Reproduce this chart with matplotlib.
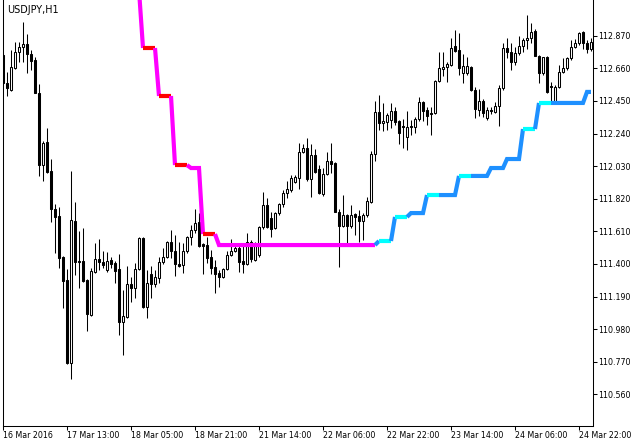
"""USDJPY H1 chart with a two-colour step trend line"""

import matplotlib
matplotlib.use('Agg')
import matplotlib.pyplot as plt


SYMBOL = "USDJPY,H1"

# hourly candles
opens = [
    112.746, 112.565, 112.520, 112.662, 112.765, 112.797, 112.817, 112.752, 112.714, 112.501,
    112.037, 112.186, 111.999, 111.754, 111.709, 111.445, 111.297, 110.762, 111.677, 111.419,
    111.419, 111.297, 111.071, 111.348, 111.432, 111.413, 111.361, 111.426, 111.406, 111.368,
    111.026, 111.058, 111.271, 111.245, 111.368, 111.567, 111.123, 111.335, 111.271, 111.310,
    111.413, 111.445, 111.542, 111.484, 111.400, 111.393, 111.484, 111.574, 111.619, 111.670,
    111.529, 111.522, 111.445, 111.381, 111.342, 111.316, 111.368, 111.458, 111.484, 111.503,
    111.419, 111.400, 111.542, 111.426, 111.458, 111.638, 111.780, 111.696, 111.632, 111.728,
    111.786, 111.857, 111.876, 111.928, 111.954, 112.121, 112.147, 111.947, 112.102, 112.012,
    111.851, 111.979, 112.063, 112.050, 111.735, 111.645, 111.715, 111.645, 111.722, 111.709,
    111.677, 111.715, 111.799, 112.108, 112.379, 112.308, 112.314, 112.327, 112.385, 112.321,
    112.289, 112.218, 112.289, 112.282, 112.334, 112.443, 112.392, 112.372, 112.372, 112.578,
    112.656, 112.669, 112.681, 112.804, 112.778, 112.630, 112.630, 112.669, 112.520, 112.392,
    112.450, 112.340, 112.392, 112.379, 112.417, 112.533, 112.791, 112.765, 112.701, 112.759,
    112.804, 112.842, 112.855, 112.900, 112.739, 112.630, 112.733, 112.546, 112.443, 112.540,
    112.636, 112.662, 112.727, 112.797, 112.823, 112.894, 112.823, 112.784,
]
highs = [
    112.760, 112.636, 112.778, 112.830, 112.830, 112.958, 112.881, 112.778, 112.733, 112.559,
    112.192, 112.276, 112.076, 111.786, 111.767, 111.452, 111.368, 111.999, 111.799, 111.612,
    111.632, 111.305, 111.374, 111.535, 111.561, 111.484, 111.477, 111.445, 111.419, 111.464,
    111.232, 111.387, 111.316, 111.406, 111.574, 111.574, 111.361, 111.387, 111.361, 111.445,
    111.503, 111.548, 111.619, 111.587, 111.542, 111.535, 111.580, 111.651, 111.754, 111.728,
    111.535, 111.574, 111.490, 111.426, 111.361, 111.374, 111.484, 111.561, 111.522, 111.522,
    111.522, 111.600, 111.554, 111.542, 111.645, 111.864, 111.825, 111.735, 111.735, 111.793,
    111.876, 111.934, 111.973, 111.973, 112.179, 112.173, 112.211, 112.173, 112.140, 112.037,
    112.018, 112.121, 112.179, 112.057, 111.754, 111.844, 111.722, 111.780, 111.728, 111.748,
    111.728, 111.831, 112.128, 112.450, 112.488, 112.437, 112.372, 112.437, 112.411, 112.327,
    112.334, 112.385, 112.327, 112.347, 112.475, 112.450, 112.411, 112.411, 112.585, 112.765,
    112.765, 112.701, 112.855, 112.907, 112.887, 112.752, 112.733, 112.675, 112.540, 112.527,
    112.462, 112.411, 112.411, 112.443, 112.553, 112.823, 112.855, 112.823, 112.797, 112.868,
    112.855, 113.003, 112.952, 112.913, 112.746, 112.733, 112.739, 112.572, 112.553, 112.681,
    112.727, 112.733, 112.842, 112.849, 112.894, 112.900, 112.842, 112.855,
]
lows = [
    112.565, 112.482, 112.514, 112.656, 112.701, 112.701, 112.630, 112.649, 112.501, 111.967,
    111.934, 111.986, 111.670, 111.471, 111.374, 111.116, 110.756, 110.659, 111.329, 111.245,
    111.284, 110.968, 111.065, 111.342, 111.361, 111.374, 111.348, 111.374, 111.277, 110.943,
    110.814, 111.052, 111.155, 111.181, 111.361, 111.116, 111.052, 111.181, 111.252, 111.277,
    111.400, 111.439, 111.439, 111.323, 111.381, 111.342, 111.471, 111.522, 111.600, 111.509,
    111.335, 111.406, 111.335, 111.213, 111.252, 111.310, 111.361, 111.451, 111.477, 111.348,
    111.342, 111.393, 111.413, 111.419, 111.445, 111.625, 111.632, 111.574, 111.625, 111.715,
    111.767, 111.825, 111.864, 111.921, 111.883, 112.115, 111.934, 111.831, 111.986, 111.851,
    111.838, 111.973, 111.986, 111.735, 111.381, 111.638, 111.535, 111.632, 111.587, 111.542,
    111.554, 111.703, 111.793, 112.063, 112.263, 112.256, 112.263, 112.276, 112.295, 112.173,
    112.147, 112.134, 112.231, 112.243, 112.321, 112.321, 112.295, 112.231, 112.366, 112.572,
    112.611, 112.572, 112.675, 112.765, 112.617, 112.565, 112.617, 112.514, 112.340, 112.353,
    112.347, 112.327, 112.366, 112.372, 112.289, 112.520, 112.727, 112.649, 112.681, 112.746,
    112.765, 112.784, 112.823, 112.739, 112.565, 112.617, 112.501, 112.443, 112.437, 112.533,
    112.630, 112.649, 112.714, 112.791, 112.810, 112.784, 112.759, 112.772,
]
closes = [
    112.565, 112.533, 112.669, 112.765, 112.797, 112.817, 112.752, 112.707, 112.501, 112.037,
    112.179, 111.992, 111.754, 111.703, 111.439, 111.290, 110.762, 111.683, 111.413, 111.413,
    111.290, 111.078, 111.355, 111.432, 111.413, 111.393, 111.419, 111.400, 111.355, 111.026,
    111.065, 111.271, 111.245, 111.368, 111.567, 111.123, 111.277, 111.271, 111.316, 111.413,
    111.445, 111.542, 111.484, 111.400, 111.387, 111.484, 111.574, 111.619, 111.664, 111.516,
    111.516, 111.439, 111.374, 111.335, 111.316, 111.368, 111.458, 111.484, 111.503, 111.413,
    111.400, 111.542, 111.432, 111.535, 111.638, 111.780, 111.638, 111.625, 111.728, 111.786,
    111.857, 111.883, 111.954, 111.960, 112.121, 112.147, 111.947, 112.102, 111.992, 111.857,
    111.979, 112.063, 112.044, 111.735, 111.645, 111.715, 111.645, 111.715, 111.703, 111.677,
    111.715, 111.806, 112.108, 112.379, 112.308, 112.321, 112.359, 112.385, 112.314, 112.243,
    112.282, 112.282, 112.282, 112.334, 112.443, 112.385, 112.353, 112.366, 112.578, 112.662,
    112.669, 112.688, 112.791, 112.772, 112.662, 112.675, 112.675, 112.520, 112.398, 112.450,
    112.372, 112.392, 112.385, 112.417, 112.533, 112.791, 112.765, 112.701, 112.759, 112.804,
    112.842, 112.855, 112.894, 112.739, 112.630, 112.733, 112.508, 112.540, 112.540, 112.636,
    112.662, 112.727, 112.797, 112.823, 112.887, 112.823, 112.784, 112.830,
]

# step line, starts at bar 34 (first value is above the visible range)
LINE_FIRST_BAR = 34
line_values = [
    113.164,
    112.791, 112.791, 112.791, 112.791,
    112.482, 112.482, 112.482, 112.482,
    112.037, 112.037, 112.037, 112.037,
    112.018, 112.018, 112.018,
    111.593, 111.593, 111.593, 111.593,
    111.522, 111.522, 111.522, 111.522, 111.522, 111.522, 111.522, 111.522, 111.522, 111.522,
    111.522, 111.522, 111.522, 111.522, 111.522, 111.522, 111.522, 111.522, 111.522, 111.522,
    111.522, 111.522, 111.522, 111.522, 111.522, 111.522, 111.522, 111.522, 111.522, 111.522,
    111.522, 111.522, 111.522, 111.522, 111.522, 111.522, 111.522, 111.522, 111.522, 111.522,
    111.548, 111.548, 111.548, 111.548,
    111.703, 111.703, 111.703, 111.703,
    111.728, 111.728, 111.728, 111.728,
    111.844, 111.844, 111.844, 111.844, 111.844, 111.844, 111.844, 111.844,
    111.967, 111.967, 111.967, 111.967, 111.967, 111.967, 111.967, 111.967,
    112.018, 112.018, 112.018, 112.018,
    112.076, 112.076, 112.076, 112.076,
    112.269, 112.269, 112.269, 112.269,
    112.437, 112.437, 112.437, 112.437, 112.437, 112.437,
    112.437, 112.437, 112.437, 112.437, 112.437, 112.437,
    112.508, 112.508,
]
# state of each segment ending at bar 35..147
# d = down, r = down (signal), u = up, c = up (signal)
line_state = (
    "drrrdrrrdrrrddddrrr"
    "dddddddddddddddddddddddddddddddddddddddd"
    "uccc"
    "uccc"
    "uuuuuccc"
    "uuuuuccc"
    "uuuuuuuuuuuuuccc"
    "uccc"
    "uuuuuuuuuu"
)

price_ticks = [110.560, 110.770, 110.980, 111.190, 111.400, 111.610,
               111.820, 112.030, 112.240, 112.450, 112.660, 112.870]
time_tick_bars = [0, 16, 32, 48, 64, 80, 96, 112, 128, 144]
time_tick_labels = ["16 Mar 2016", "17 Mar 13:00", "18 Mar 05:00",
                    "18 Mar 21:00", "21 Mar 14:00", "22 Mar 06:00",
                    "22 Mar 22:00", "23 Mar 14:00", "24 Mar 06:00",
                    "24 Mar 22:00"]

STATE_COLOURS = {"d": "#ff00ff", "r": "#ff0000",
                 "u": "#1e90ff", "c": "#00ffff"}


def draw_candles(ax):
    """Black/white candles as MetaTrader draws them"""
    bars = range(len(opens))
    ax.vlines(bars, lows, highs, color="black", linewidth=0.75, zorder=2)
    for i in bars:
        up = closes[i] >= opens[i]
        ax.bar(i, closes[i] - opens[i], bottom=opens[i], width=0.5,
               facecolor="white" if up else "black",
               edgecolor="black", linewidth=0.75, zorder=3)


def draw_step_line(ax):
    """Thick step line, coloured run by run"""
    start = 0
    for j in range(1, len(line_state) + 1):
        if j < len(line_state) and line_state[j] == line_state[start]:
            continue
        xs = [LINE_FIRST_BAR + k for k in range(start, j + 1)]
        ys = line_values[start:j + 1]
        ax.plot(xs, ys, color=STATE_COLOURS[line_state[start]],
                linewidth=3.0, solid_capstyle="butt",
                solid_joinstyle="miter", zorder=5)
        start = j


def make_plot(filename):
    fig = plt.figure(figsize=(6.44, 4.46), dpi=100)
    ax = fig.add_axes([2.5 / 644, 20.5 / 446, 590 / 644, 425.5 / 446])

    draw_candles(ax)
    draw_step_line(ax)

    ax.set_xlim(-0.125, 147.375)
    ax.set_ylim(110.360, 113.100)

    for side in ("left", "right", "bottom"):
        ax.spines[side].set_linewidth(0.75)
        ax.spines[side].set_color("black")
    ax.spines["top"].set_visible(False)

    ax.yaxis.tick_right()
    ax.set_yticks(price_ticks)
    ax.set_yticklabels([f"{p:.3f}" for p in price_ticks])
    ax.tick_params(axis="y", length=2.9, width=0.75, pad=1.5,
                   labelsize=5.7, colors="black")

    ax.set_xticks(time_tick_bars)
    ax.set_xticklabels(time_tick_labels, ha="left")
    ax.tick_params(axis="x", length=2.9, width=0.75, pad=0.8,
                   labelsize=5.7, colors="black")

    fig.text(7 / 644, 1 - 5 / 446, SYMBOL, fontsize=6.9,
             ha="left", va="top", color="black")

    fig.savefig(filename, dpi=100)
    plt.close(fig)


if __name__ == '__main__':
    make_plot("out.png")
